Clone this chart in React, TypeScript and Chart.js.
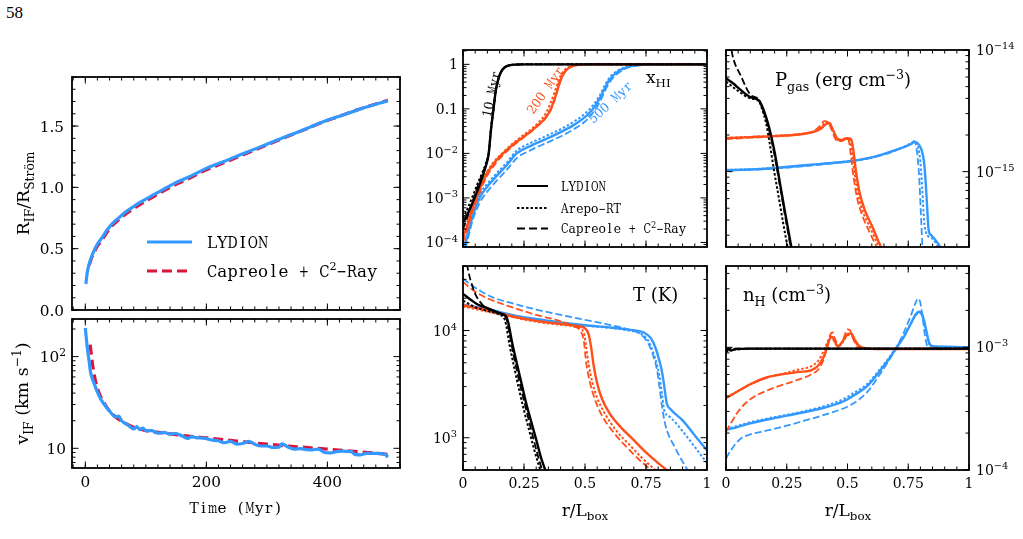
import React, { useEffect, useRef } from "react";
import { Chart, registerables } from "chart.js";
Chart.register(...registerables);

const FONT = "'DejaVu Serif', 'Liberation Serif', serif";
const C_BLACK = "#000000";
const C_ORANGE = "#ff4f1a";
const C_BLUE = "#3399ff";
const C_CRIMSON = "#dc143c";

// ---------- Panel: R_IF / R_Strom vs time ----------
const tRadLydion = [1, 3, 6.6, 10, 15, 21, 28.7, 36, 45, 56, 67, 78, 89.5, 103, 117, 131, 145, 172, 200, 228, 255, 283, 310, 338, 366, 393, 421, 449, 476, 500];
const radLydion = [0.212, 0.3, 0.38, 0.43, 0.49, 0.545, 0.598, 0.652, 0.707, 0.755, 0.8, 0.838, 0.875, 0.913, 0.951, 0.989, 1.027, 1.087, 1.155, 1.209, 1.264, 1.318, 1.372, 1.427, 1.48, 1.535, 1.582, 1.63, 1.671, 1.705];
const tRadCapreole = [6.6, 10, 15, 21, 28.7, 36, 45, 56, 67, 78, 89.5, 103, 117, 131, 145, 172, 200, 228, 255, 283, 310, 338, 366, 393, 421, 449, 476, 500];
const radCapreole = [0.367, 0.42, 0.475, 0.528, 0.58, 0.634, 0.69, 0.738, 0.783, 0.822, 0.858, 0.897, 0.936, 0.975, 1.013, 1.074, 1.143, 1.198, 1.254, 1.31, 1.366, 1.423, 1.478, 1.533, 1.582, 1.632, 1.674, 1.71];

// ---------- Panel: v_IF vs time ----------
const tVelLydion = [0, 2, 4, 6, 8, 10, 14, 20, 25, 30, 40, 50, 55, 60, 70, 80, 85, 90, 95, 100, 110, 120, 130, 140, 150, 160, 170, 175, 185, 195, 210, 220, 230, 240, 250, 260, 270, 280, 290, 300, 310, 320, 325, 335, 345, 355, 365, 375, 385, 395, 405, 415, 425, 440, 445, 455, 465, 480, 495, 500];
const velLydion = [205, 150, 115, 92, 72, 62, 52, 41, 35, 31, 25.5, 22, 22.5, 20, 18, 16.3, 17.2, 16, 16.6, 15.6, 15.6, 14.6, 14.9, 14.3, 14.5, 13.6, 12.8, 13.4, 13.0, 12.9, 12.3, 12.1, 11.5, 11.9, 11.1, 11.3, 11.9, 11.1, 10.6, 10.6, 10.2, 10.3, 11.2, 10.3, 9.8, 9.9, 9.7, 9.6, 9.8, 9.0, 8.9, 9.2, 9.3, 9.2, 8.6, 8.5, 8.8, 8.8, 8.6, 8.0];
const tVelCapreole = [8, 10, 12, 15, 20, 25, 30, 40, 50, 65, 80, 100, 125, 150, 175, 200, 250, 300, 350, 400, 450, 500];
const velCapreole = [135, 105, 82, 62, 45, 37, 32, 25.5, 22, 19, 17, 15.6, 14.8, 14.1, 13.5, 13.0, 12.0, 11.1, 10.4, 9.8, 9.2, 8.6];

// ---------- Panel: x_HI profiles ----------
const rHi10 = [0, 0.02, 0.04, 0.06, 0.08, 0.095, 0.105, 0.115, 0.125, 0.135, 0.145, 0.155, 0.17, 0.19, 0.22, 0.26, 1];
const hi10Lydion = [2.8e-4, 4.5e-4, 8e-4, 1.5e-3, 3e-3, 5.5e-3, 9.5e-3, 0.035, 0.1, 0.27, 0.47, 0.66, 0.85, 0.95, 0.99, 1, 1];
const hi10Arepo = [3.5e-4, 6e-4, 1.1e-3, 2.1e-3, 3.8e-3, 6.2e-3, 1.0e-2, 0.037, 0.1, 0.27, 0.47, 0.66, 0.85, 0.95, 0.99, 1, 1];
const hi10Capreole = [2.0e-4, 4e-4, 8.5e-4, 1.8e-3, 3.5e-3, 6e-3, 1.0e-2, 0.036, 0.1, 0.27, 0.47, 0.66, 0.85, 0.95, 0.99, 1, 1];
const rHi200 = [0, 0.02, 0.04, 0.06, 0.08, 0.1, 0.13, 0.16, 0.2, 0.24, 0.28, 0.31, 0.34, 0.36, 0.38, 0.4, 0.42, 0.45, 0.48, 0.52, 1];
const hi200Lydion = [1.3e-4, 2.6e-4, 6e-4, 1.2e-3, 2.2e-3, 3.7e-3, 6.3e-3, 9.5e-3, 1.5e-2, 2.2e-2, 3.2e-2, 4.4e-2, 6.5e-2, 0.1, 0.2, 0.45, 0.72, 0.92, 0.98, 1, 1];
const hi200Arepo = [1.5e-4, 3e-4, 7e-4, 1.35e-3, 2.4e-3, 4e-3, 6.8e-3, 1.0e-2, 1.6e-2, 2.4e-2, 3.5e-2, 5.0e-2, 8.0e-2, 0.14, 0.28, 0.55, 0.78, 0.94, 0.985, 1, 1];
const hi200Capreole = [1.0e-4, 2.1e-4, 5e-4, 1.0e-3, 1.9e-3, 3.2e-3, 5.6e-3, 8.7e-3, 1.4e-2, 2.1e-2, 3.1e-2, 4.3e-2, 6.3e-2, 0.095, 0.19, 0.43, 0.7, 0.91, 0.98, 1, 1];
const rHi500 = [0, 0.02, 0.04, 0.07, 0.1, 0.14, 0.18, 0.22, 0.28, 0.34, 0.4, 0.45, 0.5, 0.53, 0.56, 0.58, 0.6, 0.63, 0.67, 0.72, 0.8, 1];
const hi500Lydion = [6e-5, 1.5e-4, 4e-4, 1.05e-3, 1.8e-3, 3.2e-3, 5.5e-3, 1e-2, 1.5e-2, 2.1e-2, 3e-2, 4.2e-2, 6.5e-2, 9.5e-2, 0.17, 0.28, 0.45, 0.66, 0.86, 0.96, 1, 1];
const hi500Arepo = [7e-5, 1.8e-4, 4.8e-4, 1.25e-3, 2.1e-3, 3.7e-3, 6.3e-3, 1.15e-2, 1.75e-2, 2.45e-2, 3.5e-2, 5e-2, 7.8e-2, 0.115, 0.2, 0.33, 0.5, 0.7, 0.88, 0.965, 1, 1];
const hi500Capreole = [4.5e-5, 1.2e-4, 3.2e-4, 8e-4, 1.4e-3, 2.5e-3, 4.3e-3, 7.8e-3, 1.2e-2, 1.7e-2, 2.4e-2, 3.4e-2, 5.2e-2, 7.8e-2, 0.14, 0.24, 0.39, 0.6, 0.82, 0.95, 1, 1];

// ---------- Panel: temperature profiles ----------
const rT10Lydion = [0, 0.03, 0.06, 0.09, 0.12, 0.15, 0.175, 0.185, 0.2, 0.22, 0.24, 0.26, 0.28, 0.3, 0.32, 0.34];
const t10Lydion = [22000, 19500, 17500, 16500, 15500, 14500, 13700, 12000, 8000, 5000, 3200, 2050, 1400, 960, 650, 480];
const rT10Arepo = [0, 0.05, 0.1, 0.15, 0.172, 0.19, 0.21, 0.23, 0.25, 0.27, 0.29, 0.31, 0.33];
const t10Arepo = [19000, 16500, 15200, 14000, 12500, 7500, 4500, 2800, 1800, 1200, 800, 560, 400];
const rT10Capreole = [0.015, 0.03, 0.05, 0.07, 0.09, 0.12, 0.15, 0.175, 0.19, 0.21, 0.23, 0.25, 0.27, 0.29, 0.31, 0.33];
const t10Capreole = [42000, 30000, 22000, 18500, 16500, 15300, 14500, 13500, 9500, 5500, 3400, 2200, 1450, 950, 640, 450];
const rT200Lydion = [0, 0.1, 0.2, 0.3, 0.4, 0.46, 0.5, 0.515, 0.525, 0.535, 0.55, 0.57, 0.6, 0.65, 0.7, 0.75, 0.8, 0.85];
const t200Lydion = [17200, 15500, 13600, 12300, 11500, 11100, 10500, 9200, 7000, 4800, 3200, 2300, 1700, 1230, 950, 730, 580, 470];
const rT200Arepo = [0, 0.1, 0.2, 0.3, 0.4, 0.47, 0.495, 0.505, 0.515, 0.53, 0.55, 0.58, 0.63, 0.68, 0.73, 0.78, 0.83];
const t200Arepo = [16800, 15000, 13400, 12100, 11300, 10700, 9500, 7000, 4800, 3300, 2350, 1700, 1150, 870, 660, 520, 420];
const rT200Capreole = [0, 0.05, 0.1, 0.2, 0.3, 0.4, 0.45, 0.48, 0.495, 0.505, 0.52, 0.54, 0.57, 0.62, 0.67, 0.72, 0.77, 0.81];
const t200Capreole = [28400, 23000, 20000, 16500, 14000, 12200, 11000, 10000, 8000, 5000, 3300, 2300, 1600, 1100, 820, 630, 500, 410];
const rT500Lydion = [0, 0.1, 0.2, 0.3, 0.4, 0.5, 0.6, 0.68, 0.74, 0.77, 0.79, 0.805, 0.815, 0.825, 0.835, 0.85, 0.9, 0.95, 1];
const t500Lydion = [17400, 15800, 14000, 12800, 11900, 11200, 10700, 10200, 9600, 8500, 6800, 5200, 4200, 3000, 2100, 1850, 1450, 1050, 760];
const rT500Arepo = [0, 0.1, 0.2, 0.3, 0.4, 0.5, 0.6, 0.68, 0.73, 0.76, 0.78, 0.795, 0.805, 0.815, 0.825, 0.85, 0.9, 0.95, 1];
const t500Arepo = [17000, 15500, 13800, 12600, 11800, 11100, 10600, 10000, 9300, 8000, 6200, 4800, 3800, 2600, 1800, 1550, 1150, 820, 580];
const rT500Capreole = [0, 0.03, 0.07, 0.12, 0.2, 0.3, 0.4, 0.5, 0.6, 0.68, 0.73, 0.76, 0.78, 0.795, 0.805, 0.815, 0.83, 0.87, 0.92];
const t500Capreole = [30500, 27000, 23500, 20500, 18000, 15700, 14000, 12600, 11300, 10200, 9200, 7500, 5800, 4300, 3000, 2000, 1300, 800, 500];

// ---------- Panel: gas pressure profiles ----------
const rP10Lydion = [0, 0.03, 0.06, 0.1, 0.135, 0.15, 0.165, 0.18, 0.2, 0.22, 0.24, 0.26, 0.28];
const p10Lydion = [5.85e-15, 5.3e-15, 4.7e-15, 4.1e-15, 3.85e-15, 3.4e-15, 2.8e-15, 2.2e-15, 1.45e-15, 8.5e-16, 5e-16, 3e-16, 1.8e-16];
const rP10Arepo = [0, 0.05, 0.1, 0.135, 0.15, 0.165, 0.18, 0.195, 0.215, 0.235, 0.255, 0.275];
const p10Arepo = [5.5e-15, 4.6e-15, 4.0e-15, 3.8e-15, 3.2e-15, 2.5e-15, 1.7e-15, 1.1e-15, 6.5e-16, 3.8e-16, 2.3e-16, 1.4e-16];
const rP10Capreole = [0.015, 0.03, 0.06, 0.1, 0.135, 0.15, 0.165, 0.18, 0.2, 0.22, 0.24, 0.26, 0.28];
const p10Capreole = [1.2e-14, 8.5e-15, 6.2e-15, 4.3e-15, 3.9e-15, 3.3e-15, 2.7e-15, 2.1e-15, 1.35e-15, 8e-16, 4.7e-16, 2.8e-16, 1.7e-16];
const rP200Lydion = [0, 0.1, 0.2, 0.3, 0.36, 0.39, 0.41, 0.425, 0.44, 0.46, 0.48, 0.5, 0.515, 0.525, 0.535, 0.55, 0.57, 0.6, 0.63, 0.66];
const p200Lydion = [1.88e-15, 1.92e-15, 1.96e-15, 2.02e-15, 2.12e-15, 2.25e-15, 2.45e-15, 2.5e-15, 2.2e-15, 1.85e-15, 1.82e-15, 1.88e-15, 1.85e-15, 1.45e-15, 1.0e-15, 6.7e-16, 4.9e-16, 3.6e-16, 2.6e-16, 1.9e-16];
const rP200Arepo = [0, 0.1, 0.2, 0.3, 0.36, 0.39, 0.41, 0.425, 0.44, 0.46, 0.48, 0.495, 0.51, 0.52, 0.53, 0.545, 0.565, 0.595, 0.625, 0.655];
const p200Arepo = [1.9e-15, 1.93e-15, 1.97e-15, 2.03e-15, 2.14e-15, 2.3e-15, 2.55e-15, 2.55e-15, 2.2e-15, 1.82e-15, 1.8e-15, 1.88e-15, 1.82e-15, 1.35e-15, 9.5e-16, 6.3e-16, 4.6e-16, 3.4e-16, 2.5e-16, 1.85e-16];
const rP200Capreole = [0, 0.1, 0.2, 0.3, 0.36, 0.385, 0.405, 0.42, 0.435, 0.455, 0.475, 0.49, 0.505, 0.515, 0.525, 0.54, 0.56, 0.59, 0.62, 0.65];
const p200Capreole = [1.85e-15, 1.9e-15, 1.95e-15, 2.02e-15, 2.15e-15, 2.35e-15, 2.6e-15, 2.55e-15, 2.2e-15, 1.8e-15, 1.78e-15, 1.9e-15, 1.8e-15, 1.3e-15, 9e-16, 6e-16, 4.4e-16, 3.2e-16, 2.4e-16, 1.8e-16];
const rP500Lydion = [0, 0.1, 0.2, 0.3, 0.4, 0.5, 0.6, 0.66, 0.72, 0.76, 0.775, 0.79, 0.805, 0.815, 0.822, 0.828, 0.834, 0.845, 0.87, 0.9];
const p500Lydion = [1.03e-15, 1.04e-15, 1.07e-15, 1.12e-15, 1.16e-15, 1.21e-15, 1.31e-15, 1.42e-15, 1.56e-15, 1.68e-15, 1.75e-15, 1.7e-15, 1.5e-15, 1.2e-15, 8e-16, 5e-16, 3.3e-16, 3e-16, 2.6e-16, 2.1e-16];
const rP500Arepo = [0, 0.2, 0.4, 0.6, 0.72, 0.76, 0.775, 0.79, 0.8, 0.808, 0.815, 0.822, 0.85, 0.88, 0.91];
const p500Arepo = [1.03e-15, 1.07e-15, 1.16e-15, 1.31e-15, 1.56e-15, 1.7e-15, 1.76e-15, 1.6e-15, 1.2e-15, 7e-16, 4e-16, 3.2e-16, 2.8e-16, 2.3e-16, 1.9e-16];
const rP500Capreole = [0, 0.2, 0.4, 0.6, 0.72, 0.76, 0.775, 0.785, 0.795, 0.802, 0.81];
const p500Capreole = [1.02e-15, 1.06e-15, 1.15e-15, 1.3e-15, 1.55e-15, 1.7e-15, 1.78e-15, 1.5e-15, 9e-16, 4.5e-16, 2e-16];

// ---------- Panel: hydrogen density profiles ----------
const rN10 = [0, 0.01, 0.02, 0.04, 0.1, 0.3, 0.6, 1];
const n10Lydion = [9.2e-4, 9.8e-4, 9.4e-4, 9.7e-4, 9.75e-4, 9.75e-4, 9.75e-4, 9.75e-4];
const n10Arepo = [9.5e-4, 9.3e-4, 9.8e-4, 9.6e-4, 9.75e-4, 9.75e-4, 9.75e-4, 9.75e-4];
const n10Capreole = [9.0e-4, 9.6e-4, 9.7e-4, 9.75e-4, 9.75e-4, 9.75e-4, 9.75e-4, 9.75e-4];
const rN200Lydion = [0, 0.05, 0.1, 0.17, 0.25, 0.3, 0.35, 0.38, 0.4, 0.415, 0.425, 0.435, 0.445, 0.46, 0.48, 0.5, 0.515, 0.53, 0.55, 0.58, 0.62, 1];
const n200Lydion = [3.85e-4, 4.4e-4, 5.0e-4, 5.7e-4, 6.1e-4, 6.3e-4, 6.5e-4, 7.1e-4, 8.2e-4, 9.8e-4, 1.15e-3, 1.22e-3, 1.15e-3, 1.02e-3, 1.12e-3, 1.28e-3, 1.3e-3, 1.15e-3, 1.02e-3, 9.8e-4, 9.7e-4, 9.7e-4];
const rN200Arepo = [0, 0.05, 0.1, 0.17, 0.25, 0.3, 0.35, 0.38, 0.4, 0.415, 0.425, 0.435, 0.445, 0.46, 0.48, 0.5, 0.515, 0.53, 0.55, 0.58, 1];
const n200Arepo = [3.9e-4, 4.4e-4, 5.0e-4, 5.7e-4, 6.2e-4, 6.6e-4, 7.0e-4, 7.8e-4, 9.2e-4, 1.08e-3, 1.18e-3, 1.2e-3, 1.12e-3, 1.02e-3, 1.1e-3, 1.25e-3, 1.26e-3, 1.12e-3, 1.0e-3, 9.7e-4, 9.7e-4];
const rN200Capreole = [0, 0.02, 0.045, 0.08, 0.12, 0.2, 0.28, 0.35, 0.38, 0.4, 0.415, 0.428, 0.438, 0.45, 0.465, 0.485, 0.5, 0.51, 0.525, 0.545, 0.58, 1];
const n200Capreole = [2.05e-4, 2.4e-4, 2.9e-4, 3.5e-4, 4.0e-4, 4.7e-4, 5.3e-4, 6.0e-4, 6.6e-4, 7.8e-4, 1.0e-3, 1.25e-3, 1.32e-3, 1.15e-3, 1.02e-3, 1.2e-3, 1.4e-3, 1.38e-3, 1.15e-3, 1.0e-3, 9.7e-4, 9.7e-4];
const rN500Lydion = [0, 0.05, 0.1, 0.2, 0.3, 0.4, 0.48, 0.53, 0.58, 0.63, 0.67, 0.7, 0.73, 0.76, 0.78, 0.795, 0.805, 0.815, 0.825, 0.835, 0.85, 0.9, 1];
const n500Lydion = [2.12e-4, 2.25e-4, 2.4e-4, 2.65e-4, 2.9e-4, 3.2e-4, 3.6e-4, 4.1e-4, 4.8e-4, 6.3e-4, 8e-4, 9.8e-4, 1.2e-3, 1.55e-3, 1.85e-3, 1.95e-3, 1.9e-3, 1.65e-3, 1.35e-3, 1.1e-3, 1.02e-3, 1.01e-3, 1.0e-3];
const n500Arepo = [2.15e-4, 2.3e-4, 2.45e-4, 2.7e-4, 2.95e-4, 3.3e-4, 3.75e-4, 4.3e-4, 5.0e-4, 6.5e-4, 8.2e-4, 1.0e-3, 1.22e-3, 1.55e-3, 1.82e-3, 1.9e-3, 1.85e-3, 1.6e-3, 1.3e-3, 1.08e-3, 1.02e-3, 1.01e-3, 1.0e-3];
const rN500Capreole = [0, 0.02, 0.06, 0.1, 0.17, 0.25, 0.3, 0.4, 0.52, 0.58, 0.63, 0.67, 0.7, 0.73, 0.76, 0.78, 0.79, 0.8, 0.81, 0.82, 0.83, 0.85, 1];
const n500Capreole = [1.24e-4, 1.45e-4, 1.8e-4, 1.95e-4, 2.1e-4, 2.3e-4, 2.45e-4, 2.8e-4, 3.45e-4, 4.3e-4, 5.9e-4, 7.8e-4, 9.8e-4, 1.3e-3, 1.8e-3, 2.3e-3, 2.5e-3, 2.3e-3, 1.7e-3, 1.2e-3, 1.02e-3, 1.0e-3, 1.0e-3];

// ---------- tick labels ----------
const radTicks = [0, 0.5, 1, 1.5];
const radTickLabels = ["0.0", "0.5", "1.0", "1.5"];
const timeTicks = [0, 200, 400];
const timeTickLabels = ["0", "200", "400"];
const velTicks = [10, 100];
const velTickLabels = ["10", "10^{2}"];
const rTicks = [0, 0.25, 0.5, 0.75, 1];
const rTickLabels = ["0", "0.25", "0.5", "0.75", "1"];
const hiTicks = [1e-4, 1e-3, 1e-2, 0.1, 1];
const hiTickLabels = ["10^{−4}", "10^{−3}", "10^{−2}", "0.1", "1"];
const tempTicks = [1e3, 1e4];
const tempTickLabels = ["10^{3}", "10^{4}"];
const presTicks = [1e-15, 1e-14];
const presTickLabels = ["10^{−15}", "10^{−14}"];
const densTicks = [1e-4, 1e-3];
const densTickLabels = ["10^{−4}", "10^{−3}"];

// ---------- helpers ----------
type Seg = { t: string; m: number };
function parseRich(s: string): Seg[] {
  const out: Seg[] = [];
  let buf = "";
  let i = 0;
  while (i < s.length) {
    const c = s[i];
    if ((c === "^" || c === "_") && s[i + 1] === "{") {
      if (buf) { out.push({ t: buf, m: 0 }); buf = ""; }
      const end = s.indexOf("}", i + 2);
      out.push({ t: s.slice(i + 2, end), m: c === "^" ? 1 : -1 });
      i = end + 1;
    } else { buf += c; i++; }
  }
  if (buf) out.push({ t: buf, m: 0 });
  return out;
}
// Draws text with sub/superscripts. mono: typewriter-like fixed advance cells.
function drawRich(ctx: CanvasRenderingContext2D, s: string, x: number, y: number, size: number, opts: { align?: string; color?: string; rot?: number; mono?: boolean } = {}) {
  const segs = parseRich(s);
  const small = size * 0.7;
  ctx.save();
  ctx.translate(x, y);
  if (opts.rot) ctx.rotate((opts.rot * Math.PI) / 180);
  const glyphScale = opts.mono ? 0.98 : 1;
  let w = 0;
  const widths = segs.map((sg) => {
    const sz = sg.m ? small : size;
    let ww: number;
    if (opts.mono) ww = sg.t.length * sz * 0.6;
    else {
      ctx.font = `${sz}px ${FONT}`;
      ww = ctx.measureText(sg.t).width;
    }
    w += ww;
    return ww;
  });
  let cx = opts.align === "center" ? -w / 2 : opts.align === "right" ? -w : 0;
  ctx.textBaseline = "alphabetic";
  ctx.fillStyle = opts.color || "#000";
  const base = size * 0.36;
  segs.forEach((sg, k) => {
    const sz = sg.m ? small : size;
    const dy = sg.m === 1 ? -size * 0.42 : sg.m === -1 ? size * 0.24 : 0;
    if (opts.mono) {
      const cell = sz * 0.6;
      ctx.font = `${sz * glyphScale}px ${FONT}`;
      ctx.textAlign = "center";
      for (let j = 0; j < sg.t.length; j++) {
        const ch = sg.t[j];
        const gw = ctx.measureText(ch).width;
        const cxc = cx + cell * j + cell / 2;
        const lim = cell * 1.0;
        if (gw > lim) {
          ctx.save();
          ctx.translate(cxc, base + dy);
          ctx.scale(lim / gw, 1);
          ctx.fillText(ch, 0, 0);
          ctx.restore();
        } else {
          ctx.fillText(ch, cxc, base + dy);
        }
      }
    } else {
      ctx.font = `${sz}px ${FONT}`;
      ctx.textAlign = "left";
      ctx.fillText(sg.t, cx, base + dy);
    }
    cx += widths[k];
  });
  ctx.restore();
}
function linMinor(a: number, b: number, step: number) {
  const o: number[] = [];
  for (let v = Math.ceil(a / step) * step; v <= b + 1e-9; v += step) o.push(+v.toFixed(6));
  return o;
}
function logMinor(a: number, b: number) {
  const o: number[] = [];
  for (let e = Math.floor(Math.log10(a)); e <= Math.ceil(Math.log10(b)); e++) {
    for (let m = 2; m <= 9; m++) {
      const v = m * Math.pow(10, e);
      if (v >= a && v <= b) o.push(v);
    }
  }
  return o;
}
const pts = (xs: number[], ys: number[]) => xs.map((x, i) => ({ x, y: ys[i] }));
type Style = "solid" | "dotted" | "dashed";
function ds(label: string, xs: number[], ys: number[], color: string, style: Style) {
  return {
    label,
    data: pts(xs, ys),
    borderColor: color,
    backgroundColor: color,
    borderWidth: style === "solid" ? 2.4 : style === "dotted" ? 2 : 1.8,
    borderDash: style === "solid" ? [] : style === "dotted" ? [2.5, 2] : [7, 3],
    fill: false,
  };
}

interface PanelCfg {
  box: number[];
  pad: number[];
  xType: string; xMin: number; xMax: number;
  yType: string; yMin: number; yMax: number;
  xMaj: number[]; xMinor: number[]; xLabels?: string[];
  yMaj: number[]; yMinor: number[]; yLabels?: string[];
  ySide: string; yGap: number; tickSize: number;
  datasets: any[];
  extra?: (ctx: CanvasRenderingContext2D, X: (v: number) => number, Y: (v: number) => number) => void;
}

function Panel({ cfg }: { cfg: PanelCfg }) {
  const ref = useRef<HTMLCanvasElement>(null);
  const [L, T, R, B] = cfg.box;
  const [pl, pt, pr, pb] = cfg.pad;
  const cx0 = L - pl;
  const cy0 = T - pt;
  const W = R - L + pl + pr;
  const H = B - T + pt + pb;
  useEffect(() => {
    const decor = {
      id: "decor",
      afterDraw(chart: any) {
        const ctx: CanvasRenderingContext2D = chart.ctx;
        const a = chart.chartArea;
        const xs = chart.scales.x;
        const ys = chart.scales.y;
        ctx.save();
        ctx.strokeStyle = "#000";
        ctx.lineWidth = 1;
        const seg = (x1: number, y1: number, x2: number, y2: number) => {
          ctx.beginPath(); ctx.moveTo(x1, y1); ctx.lineTo(x2, y2); ctx.stroke();
        };
        const MAJ = 6.5, MIN = 3.5;
        ([[cfg.xMaj, MAJ], [cfg.xMinor, MIN]] as [number[], number][]).forEach(([vals, len]) => {
          vals.forEach((v) => {
            const p = xs.getPixelForValue(v);
            if (p < a.left - 0.5 || p > a.right + 0.5) return;
            seg(p, a.bottom, p, a.bottom - len);
            seg(p, a.top, p, a.top + len);
          });
        });
        ([[cfg.yMaj, MAJ], [cfg.yMinor, MIN]] as [number[], number][]).forEach(([vals, len]) => {
          vals.forEach((v) => {
            const p = ys.getPixelForValue(v);
            if (p < a.top - 0.5 || p > a.bottom + 0.5) return;
            seg(a.left, p, a.left + len, p);
            seg(a.right, p, a.right - len, p);
          });
        });
        ctx.lineWidth = 1.8;
        ctx.strokeRect(a.left, a.top, a.right - a.left, a.bottom - a.top);
        if (cfg.xLabels) {
          cfg.xMaj.forEach((v, i) => drawRich(ctx, cfg.xLabels![i], xs.getPixelForValue(v), a.bottom + 13, cfg.tickSize, { align: "center" }));
        }
        if (cfg.yLabels) {
          cfg.yMaj.forEach((v, i) => {
            const p = ys.getPixelForValue(v);
            if (cfg.ySide === "left") drawRich(ctx, cfg.yLabels![i], a.left - cfg.yGap, p, cfg.tickSize, { align: "right" });
            else drawRich(ctx, cfg.yLabels![i], a.right + cfg.yGap, p, cfg.tickSize, { align: "left" });
          });
        }
        if (cfg.extra) cfg.extra(ctx, (v) => v - cx0, (v) => v - cy0);
        ctx.restore();
      },
    };
    const chart = new Chart(ref.current as HTMLCanvasElement, {
      type: "line",
      data: { datasets: cfg.datasets },
      options: {
        animation: false,
        responsive: false,
        maintainAspectRatio: false,
        events: [],
        layout: { padding: { left: pl, top: pt, right: pr, bottom: pb } },
        plugins: { legend: { display: false }, tooltip: { enabled: false } },
        elements: { point: { radius: 0 }, line: { cubicInterpolationMode: "monotone" } },
        scales: {
          x: { type: cfg.xType as any, min: cfg.xMin, max: cfg.xMax, display: false },
          y: { type: cfg.yType as any, min: cfg.yMin, max: cfg.yMax, display: false },
        },
      } as any,
      plugins: [decor],
    });
    return () => chart.destroy();
  }, []);
  return (
    <canvas
      ref={ref}
      width={W}
      height={H}
      style={{ position: "absolute", left: cx0, top: cy0, width: W, height: H }}
    />
  );
}

function legendLine(ctx: CanvasRenderingContext2D, x1: number, x2: number, y: number, color: string, width: number, dash: number[]) {
  ctx.save();
  ctx.strokeStyle = color;
  ctx.lineWidth = width;
  ctx.setLineDash(dash);
  ctx.beginPath(); ctx.moveTo(x1, y); ctx.lineTo(x2, y); ctx.stroke();
  ctx.restore();
}

const panels: PanelCfg[] = [
  {
    box: [72, 77, 400, 310], pad: [72, 4, 6, 9],
    xType: "linear", xMin: -22, xMax: 520, yType: "linear", yMin: 0, yMax: 1.9,
    xMaj: timeTicks, xMinor: linMinor(-20, 520, 20),
    yMaj: radTicks, yMinor: linMinor(0, 1.9, 0.1), yLabels: radTickLabels, ySide: "left", yGap: 8, tickSize: 15.3,
    datasets: [
      { ...ds("LYDION", tRadLydion, radLydion, C_BLUE, "solid"), borderWidth: 3.2 },
      { ...ds("Capreole + C2-Ray", tRadCapreole, radCapreole, C_CRIMSON, "dashed"), borderWidth: 3.2, borderDash: [10, 5] },
    ],
    extra: (ctx, X, Y) => {
      legendLine(ctx, X(147), X(192), Y(242), C_BLUE, 3.2, []);
      legendLine(ctx, X(147), X(192), Y(271), C_CRIMSON, 3.2, [10, 5]);
      drawRich(ctx, "LYDION", X(207), Y(242), 17, { mono: true });
      drawRich(ctx, "Capreole + C^{2}−Ray", X(207), Y(271), 17, { mono: true });
      drawRich(ctx, "R_{IF}/R_{Ström}", X(23), Y(193.5), 17.5, { align: "center", rot: -90 });
    },
  },
  {
    box: [72, 319, 400, 468], pad: [72, 4, 6, 66],
    xType: "linear", xMin: -22, xMax: 520, yType: "logarithmic", yMin: 6.1, yMax: 257,
    xMaj: timeTicks, xMinor: linMinor(-20, 520, 20), xLabels: timeTickLabels,
    yMaj: velTicks, yMinor: logMinor(6.1, 257), yLabels: velTickLabels, ySide: "left", yGap: 6, tickSize: 15.3,
    datasets: [
      { ...ds("LYDION", tVelLydion, velLydion, C_BLUE, "solid"), borderWidth: 3.2 },
      { ...ds("Capreole + C2-Ray", tVelCapreole, velCapreole, C_CRIMSON, "dashed"), borderWidth: 3.2, borderDash: [10, 5] },
    ],
    extra: (ctx, X, Y) => {
      drawRich(ctx, "Time (Myr)", X(236), Y(507), 15.5, { align: "center", mono: true });
      drawRich(ctx, "v_{IF} (km s^{−1})", X(22), Y(393.5), 17.5, { align: "center", rot: -90 });
    },
  },
  {
    box: [463, 50, 707, 247], pad: [50, 4, 8, 4],
    xType: "linear", xMin: 0, xMax: 1, yType: "logarithmic", yMin: 7.9e-5, yMax: 2.1,
    xMaj: rTicks, xMinor: linMinor(0, 1, 0.05),
    yMaj: hiTicks, yMinor: logMinor(7.9e-5, 2.1), yLabels: hiTickLabels, ySide: "left", yGap: 5, tickSize: 14,
    datasets: [
      ds("10 Myr Arepo-RT", rHi10, hi10Arepo, C_BLACK, "dotted"),
      ds("10 Myr Capreole", rHi10, hi10Capreole, C_BLACK, "dashed"),
      ds("10 Myr LYDION", rHi10, hi10Lydion, C_BLACK, "solid"),
      ds("200 Myr Arepo-RT", rHi200, hi200Arepo, C_ORANGE, "dotted"),
      ds("200 Myr Capreole", rHi200, hi200Capreole, C_ORANGE, "dashed"),
      ds("200 Myr LYDION", rHi200, hi200Lydion, C_ORANGE, "solid"),
      ds("500 Myr Arepo-RT", rHi500, hi500Arepo, C_BLUE, "dotted"),
      ds("500 Myr Capreole", rHi500, hi500Capreole, C_BLUE, "dashed"),
      ds("500 Myr LYDION", rHi500, hi500Lydion, C_BLUE, "solid"),
    ],
    extra: (ctx, X, Y) => {
      legendLine(ctx, X(517), X(548), Y(186), C_BLACK, 2, []);
      legendLine(ctx, X(517), X(548), Y(208), C_BLACK, 2, [2.5, 2]);
      legendLine(ctx, X(517), X(548), Y(228.5), C_BLACK, 2, [8, 4]);
      drawRich(ctx, "LYDION", X(561), Y(186), 12.5, { mono: true });
      drawRich(ctx, "Arepo−RT", X(561), Y(208), 12.5, { mono: true });
      drawRich(ctx, "Capreole + C^{2}−Ray", X(561), Y(228.5), 12.5, { mono: true });
      drawRich(ctx, "x_{HI}", X(646), Y(77), 17);
      drawRich(ctx, "10 Myr", X(491), Y(94), 13, { align: "center", rot: -78, color: C_BLACK, mono: true });
      drawRich(ctx, "200 Myr", X(545), Y(90), 13, { align: "center", rot: -55, color: C_ORANGE, mono: true });
      drawRich(ctx, "500 Myr", X(610), Y(102), 13, { align: "center", rot: -43, color: C_BLUE, mono: true });
    },
  },
  {
    box: [463, 266, 707, 470], pad: [50, 4, 8, 60],
    xType: "linear", xMin: 0, xMax: 1, yType: "logarithmic", yMin: 500, yMax: 40000,
    xMaj: rTicks, xMinor: linMinor(0, 1, 0.05), xLabels: rTickLabels,
    yMaj: tempTicks, yMinor: logMinor(500, 40000), yLabels: tempTickLabels, ySide: "left", yGap: 6, tickSize: 14,
    datasets: [
      ds("10 Myr Arepo-RT", rT10Arepo, t10Arepo, C_BLACK, "dotted"),
      ds("10 Myr Capreole", rT10Capreole, t10Capreole, C_BLACK, "dashed"),
      ds("10 Myr LYDION", rT10Lydion, t10Lydion, C_BLACK, "solid"),
      ds("200 Myr Arepo-RT", rT200Arepo, t200Arepo, C_ORANGE, "dotted"),
      ds("200 Myr Capreole", rT200Capreole, t200Capreole, C_ORANGE, "dashed"),
      ds("200 Myr LYDION", rT200Lydion, t200Lydion, C_ORANGE, "solid"),
      ds("500 Myr Arepo-RT", rT500Arepo, t500Arepo, C_BLUE, "dotted"),
      ds("500 Myr Capreole", rT500Capreole, t500Capreole, C_BLUE, "dashed"),
      ds("500 Myr LYDION", rT500Lydion, t500Lydion, C_BLUE, "solid"),
    ],
    extra: (ctx, X, Y) => {
      drawRich(ctx, "T (K)", X(633), Y(294.5), 18);
      drawRich(ctx, "r/L_{box}", X(585), Y(510), 17, { align: "center" });
    },
  },
  {
    box: [726, 50, 969, 247], pad: [10, 16, 52, 4],
    xType: "linear", xMin: 0, xMax: 1, yType: "logarithmic", yMin: 2.4e-16, yMax: 1e-14,
    xMaj: rTicks, xMinor: linMinor(0, 1, 0.05),
    yMaj: presTicks, yMinor: logMinor(2.4e-16, 1e-14), yLabels: presTickLabels, ySide: "right", yGap: 7, tickSize: 14,
    datasets: [
      ds("10 Myr Arepo-RT", rP10Arepo, p10Arepo, C_BLACK, "dotted"),
      ds("10 Myr Capreole", rP10Capreole, p10Capreole, C_BLACK, "dashed"),
      ds("10 Myr LYDION", rP10Lydion, p10Lydion, C_BLACK, "solid"),
      ds("200 Myr Arepo-RT", rP200Arepo, p200Arepo, C_ORANGE, "dotted"),
      ds("200 Myr Capreole", rP200Capreole, p200Capreole, C_ORANGE, "dashed"),
      ds("200 Myr LYDION", rP200Lydion, p200Lydion, C_ORANGE, "solid"),
      ds("500 Myr Arepo-RT", rP500Arepo, p500Arepo, C_BLUE, "dotted"),
      ds("500 Myr Capreole", rP500Capreole, p500Capreole, C_BLUE, "dashed"),
      ds("500 Myr LYDION", rP500Lydion, p500Lydion, C_BLUE, "solid"),
    ],
    extra: (ctx, X, Y) => {
      drawRich(ctx, "P_{gas} (erg cm^{−3})", X(775), Y(80), 18);
    },
  },
  {
    box: [726, 266, 969, 470], pad: [10, 4, 52, 60],
    xType: "linear", xMin: 0, xMax: 1, yType: "logarithmic", yMin: 1e-4, yMax: 4.6e-3,
    xMaj: rTicks, xMinor: linMinor(0, 1, 0.05), xLabels: rTickLabels,
    yMaj: densTicks, yMinor: logMinor(1e-4, 4.6e-3), yLabels: densTickLabels, ySide: "right", yGap: 7, tickSize: 14,
    datasets: [
      ds("10 Myr Arepo-RT", rN10, n10Arepo, C_BLACK, "dotted"),
      ds("10 Myr Capreole", rN10, n10Capreole, C_BLACK, "dashed"),
      ds("10 Myr LYDION", rN10, n10Lydion, C_BLACK, "solid"),
      ds("200 Myr Arepo-RT", rN200Arepo, n200Arepo, C_ORANGE, "dotted"),
      ds("200 Myr Capreole", rN200Capreole, n200Capreole, C_ORANGE, "dashed"),
      ds("200 Myr LYDION", rN200Lydion, n200Lydion, C_ORANGE, "solid"),
      ds("500 Myr Arepo-RT", rN500Lydion, n500Arepo, C_BLUE, "dotted"),
      ds("500 Myr Capreole", rN500Capreole, n500Capreole, C_BLUE, "dashed"),
      ds("500 Myr LYDION", rN500Lydion, n500Lydion, C_BLUE, "solid"),
    ],
    extra: (ctx, X, Y) => {
      drawRich(ctx, "n_{H} (cm^{−3})", X(743), Y(295), 18);
      drawRich(ctx, "r/L_{box}", X(848), Y(510), 17, { align: "center" });
    },
  },
];

export default function App() {
  return (
    <div style={{ position: "absolute", left: 0, top: 0, width: 1023, height: 539, background: "#fff", overflow: "hidden" }}>
      <div style={{ position: "absolute", left: 6, top: 4, fontFamily: "'Liberation Serif', serif", fontSize: 17, lineHeight: 1 }}>58</div>
      {panels.map((p, i) => (
        <Panel key={i} cfg={p} />
      ))}
    </div>
  );
}
